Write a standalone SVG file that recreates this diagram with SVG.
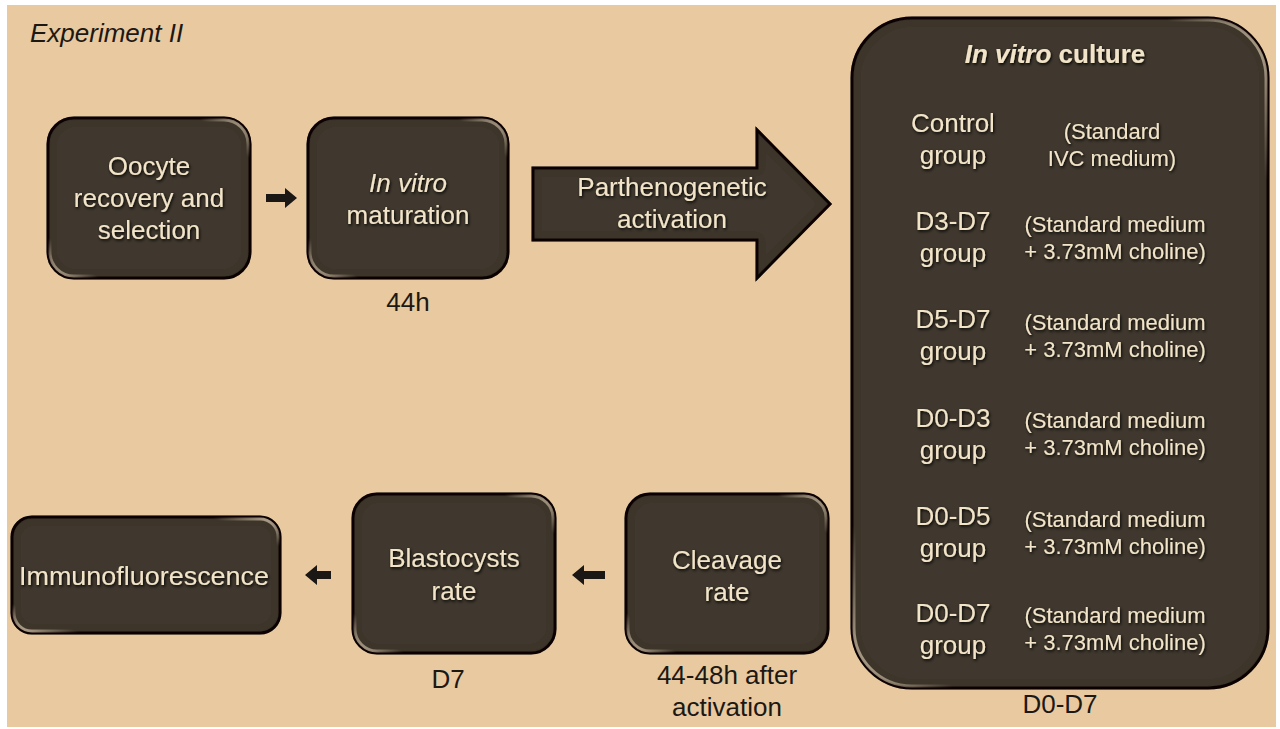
<svg xmlns="http://www.w3.org/2000/svg" width="1280" height="729" viewBox="0 0 1280 729">
  <defs>
    <style>
      .box { fill: #3f372f; stroke: #15110d; stroke-width: 3; }
      .rim { fill: none; stroke: url(#rimGrad); stroke-width: 3; }
      .t { font-family: "Liberation Sans", Arial, sans-serif; font-size: 26px; fill: #f1e4c8; text-anchor: middle; filter: url(#glow); }
      .s { font-size: 22px; }
      .lbl { font-family: "Liberation Sans", Arial, sans-serif; font-size: 26px; fill: #1c1813; text-anchor: middle; }
      .arr { fill: #1a1714; }
    </style>
    <!-- highlight along top-right and bottom-left corners of each panel -->
    <linearGradient id="rimGrad" x1="1" y1="0" x2="0" y2="1">
      <stop offset="0" stop-color="#d9c9ae" stop-opacity="0.9"/>
      <stop offset="0.12" stop-color="#d9c9ae" stop-opacity="0"/>
      <stop offset="0.88" stop-color="#d9c9ae" stop-opacity="0"/>
      <stop offset="1" stop-color="#d9c9ae" stop-opacity="0.9"/>
    </linearGradient>
    <filter id="glow" x="-10%" y="-30%" width="120%" height="160%">
      <feDropShadow dx="1" dy="1.5" stdDeviation="1.4" flood-color="#000" flood-opacity="1"/>
    </filter>
    <filter id="inner" x="-5%" y="-5%" width="110%" height="110%">
      <feGaussianBlur in="SourceAlpha" stdDeviation="4" result="b"/>
      <feComposite in="SourceAlpha" in2="b" operator="out" result="edge"/>
      <feFlood flood-color="#000" flood-opacity="0.55"/>
      <feComposite in2="edge" operator="in" result="sh"/>
      <feMerge><feMergeNode in="SourceGraphic"/><feMergeNode in="sh"/></feMerge>
    </filter>
  </defs>

  <rect x="0" y="0" width="1280" height="729" fill="#ffffff"/>
  <rect x="7" y="5" width="1269" height="722" fill="#e8c9a0"/>

  <text x="30" y="42" font-family="Liberation Sans, Arial, sans-serif" font-size="26" font-style="italic" fill="#1c1813">Experiment II</text>

  <g id="connectors">
    <path class="arr" d="M266,194 H285 V188 L297,198 L285,208 V202 H266 Z"/>
    <path class="arr" d="M331,571 H317 V565 L305,575 L317,585 V579 H331 Z"/>
    <path class="arr" d="M605,571 H584 V565 L572,575 L584,585 V579 H605 Z"/>
  </g>

  <g id="oocyte">
    <rect class="box" x="48" y="118" width="202" height="160" rx="26" filter="url(#inner)"/>
    <rect class="rim" x="50" y="120" width="198" height="156" rx="24"/>
    <text class="t" x="149" y="175">Oocyte</text>
    <text class="t" x="149" y="207">recovery and</text>
    <text class="t" x="149" y="239">selection</text>
  </g>

  <g id="ivm">
    <rect class="box" x="308" y="118" width="200" height="160" rx="26" filter="url(#inner)"/>
    <rect class="rim" x="310" y="120" width="196" height="156" rx="24"/>
    <text class="t" x="408" y="192" font-style="italic">In vitro</text>
    <text class="t" x="408" y="224">maturation</text>
    <text class="lbl" x="408" y="311">44h</text>
  </g>

  <g id="activation">
    <path class="box" d="M533,168 H757 V130 L830,204 L757,278 V240 H533 Z" filter="url(#inner)"/>
    <text class="t" x="672" y="196">Parthenogenetic</text>
    <text class="t" x="672" y="228">activation</text>
  </g>

  <g id="ivc">
    <rect class="box" x="852" y="18" width="416" height="670" rx="60" filter="url(#inner)"/>
    <rect class="rim" x="854" y="20" width="412" height="666" rx="58"/>
    <text class="t" x="1055" y="63" font-weight="bold"><tspan font-style="italic">In vitro</tspan> culture</text>

    <text class="t" x="953" y="132">Control</text>
    <text class="t" x="953" y="164">group</text>
    <text class="t s" x="1112" y="139">(Standard</text>
    <text class="t s" x="1112" y="166">IVC medium)</text>

    <text class="t" x="953" y="230">D3-D7</text>
    <text class="t" x="953" y="262">group</text>
    <text class="t s" x="1115" y="232">(Standard medium</text>
    <text class="t s" x="1115" y="259">+ 3.73mM choline)</text>

    <text class="t" x="953" y="328">D5-D7</text>
    <text class="t" x="953" y="360">group</text>
    <text class="t s" x="1115" y="330">(Standard medium</text>
    <text class="t s" x="1115" y="357">+ 3.73mM choline)</text>

    <text class="t" x="953" y="427">D0-D3</text>
    <text class="t" x="953" y="459">group</text>
    <text class="t s" x="1115" y="428">(Standard medium</text>
    <text class="t s" x="1115" y="455">+ 3.73mM choline)</text>

    <text class="t" x="953" y="525">D0-D5</text>
    <text class="t" x="953" y="557">group</text>
    <text class="t s" x="1115" y="527">(Standard medium</text>
    <text class="t s" x="1115" y="554">+ 3.73mM choline)</text>

    <text class="t" x="953" y="622">D0-D7</text>
    <text class="t" x="953" y="654">group</text>
    <text class="t s" x="1115" y="623">(Standard medium</text>
    <text class="t s" x="1115" y="650">+ 3.73mM choline)</text>

    <text class="lbl" x="1060" y="713">D0-D7</text>
  </g>

  <g id="cleavage">
    <rect class="box" x="626" y="494" width="202" height="159" rx="24" filter="url(#inner)"/>
    <rect class="rim" x="628" y="496" width="198" height="155" rx="22"/>
    <text class="t" x="727" y="569">Cleavage</text>
    <text class="t" x="727" y="601">rate</text>
    <text class="lbl" x="727" y="684">44-48h after</text>
    <text class="lbl" x="727" y="716">activation</text>
  </g>

  <g id="blastocysts">
    <rect class="box" x="353" y="494" width="202" height="159" rx="24" filter="url(#inner)"/>
    <rect class="rim" x="355" y="496" width="198" height="155" rx="22"/>
    <text class="t" x="454" y="567">Blastocysts</text>
    <text class="t" x="454" y="600">rate</text>
    <text class="lbl" x="448" y="688">D7</text>
  </g>

  <g id="immunofluorescence">
    <rect class="box" x="12" y="517" width="268" height="116" rx="20" filter="url(#inner)"/>
    <rect class="rim" x="14" y="519" width="264" height="112" rx="18"/>
    <text class="t" x="144" y="585" textLength="250" lengthAdjust="spacingAndGlyphs">Immunofluorescence</text>
  </g>
</svg>
